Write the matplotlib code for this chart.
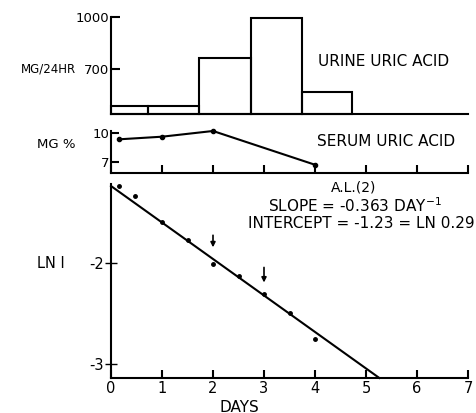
import matplotlib
import numpy as np

matplotlib.use("Agg")
import matplotlib.pyplot as plt

# urine uric acid, mg/24hr (bar edges in days)
urine_edges = [0.0, 0.73, 1.73, 2.74, 3.75, 4.73]
urine_mg = [487, 487, 762, 995, 568]

# serum uric acid, mg %
serum_days = [0.16, 1.0, 2.0, 4.0]
serum_mg = [9.38, 9.65, 10.24, 6.75]

# ln I vs days
ln_days = [0.16, 0.48, 1.0, 1.5, 2.0, 2.5, 3.0, 3.5, 4.0]
ln_i = [-1.23, -1.33, -1.59, -1.77, -2.01, -2.13, -2.30, -2.49, -2.75]
fit_slope = -0.363
fit_intercept = -1.23
arrow_days = [2, 3]
arrow_tops = [-1.72, -2.04]
arrow_bottoms = [-1.84, -2.19]

W, H = 476, 413
LW = 1.5
FS = 9.5
FS_BIG = 11


def px(x, y):
    return x / W, 1 - y / H


def axes_px(fig, x0, y0, x1, y1):
    return fig.add_axes([x0 / W, 1 - y1 / H, (x1 - x0) / W, (y1 - y0) / H])


def _style(ax):
    for side in ("top", "right"):
        ax.spines[side].set_visible(False)
    for side in ("left", "bottom"):
        ax.spines[side].set_linewidth(LW)
    ax.set_xlim(0, 7)


fig = plt.figure(figsize=(W / 100, H / 100), dpi=100)
fig.patch.set_facecolor("white")

# top: urine
ax1 = axes_px(fig, 111, 17, 468, 113.5)
_style(ax1)
ax1.set_ylim(442, 1000)
lefts = urine_edges[:-1]
widths = np.diff(urine_edges)
ax1.bar(lefts, np.array(urine_mg) - 442, width=widths, bottom=442, align="edge",
        fill=False, edgecolor="black", linewidth=LW, clip_on=False)
ax1.set_xticks([])
ax1.set_yticks([700, 1000])
ax1.set_yticklabels(["700", "1000"], fontsize=FS)
ax1.tick_params(axis="y", direction="in", length=6.5, width=LW, pad=1)
fig.text(*px(318, 62), "URINE URIC ACID", fontsize=FS_BIG, va="center", ha="left")
fig.text(*px(76, 69), "MG/24HR", fontsize=8.5, va="center", ha="right")

# middle: serum
ax2 = axes_px(fig, 111, 130.7, 468, 172.5)
_style(ax2)
ax2.set_ylim(5.95, 10.27)
ax2.plot(serum_days, serum_mg, color="black", linewidth=LW, marker="o",
         markersize=3, clip_on=False)
ax2.set_xticks(range(8))
ax2.set_xticklabels([])
ax2.set_yticks([7, 10])
ax2.set_yticklabels(["7", "10"], fontsize=FS)
ax2.tick_params(axis="both", direction="in", length=5.5, width=LW, pad=1)
fig.text(*px(317, 142), "SERUM URIC ACID", fontsize=FS_BIG, va="center", ha="left")
fig.text(*px(37, 145), "MG %", fontsize=FS, va="center", ha="left")

# bottom: ln I
ax3 = axes_px(fig, 111, 184, 468, 378)
_style(ax3)
ax3.set_ylim(-3.14, -1.21)
x_end = (-3.14 - fit_intercept) / fit_slope
xs = np.array([0, x_end])
ax3.plot(xs, fit_intercept + fit_slope * xs, color="black", linewidth=LW, clip_on=False)
ax3.plot(ln_days, ln_i, "o", color="black", markersize=2.5)
for xd, yt, yb in zip(arrow_days, arrow_tops, arrow_bottoms):
    ax3.annotate("", xy=(xd, yb), xytext=(xd, yt),
                 arrowprops=dict(arrowstyle="-|>", color="black", lw=1.2,
                                 mutation_scale=7, shrinkA=0, shrinkB=0))
ax3.set_xticks(range(8))
ax3.set_xticklabels([str(i) for i in range(8)], fontsize=10.5)
ax3.set_yticks([-3, -2])
ax3.set_yticklabels(["-3", "-2"], fontsize=10.5)
ax3.tick_params(axis="x", direction="in", length=6, width=LW, pad=2)
ax3.tick_params(axis="y", direction="inout", length=8, width=1.0, pad=1)
fig.text(*px(239, 407), "DAYS", fontsize=FS_BIG, va="center", ha="center")
fig.text(*px(37, 263), "LN I", fontsize=10.5, va="center", ha="left")
fig.text(*px(354, 187), "A.L.(2)", fontsize=10, va="center", ha="center")
fig.text(*px(355, 206), r"SLOPE = -0.363 DAY$^{-1}$", fontsize=FS_BIG, va="center", ha="center")
fig.text(*px(475, 224), "INTERCEPT = -1.23 = LN 0.29", fontsize=FS_BIG, va="center", ha="right")

fig.savefig("out.png", dpi=100)
